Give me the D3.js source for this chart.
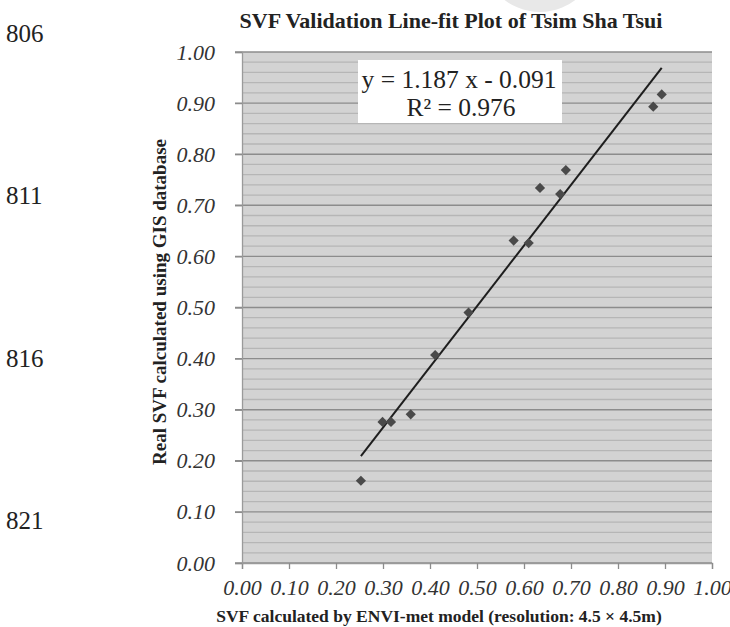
<!DOCTYPE html>
<html>
<head>
<meta charset="utf-8">
<script src="https://cdn.jsdelivr.net/npm/d3@7"></script>
<style>
  body { margin: 0; background: #fff; }
  svg { display: block; font-family: "Liberation Serif", "Times New Roman", serif; }
</style>
</head>
<body>
<div id="canvas"></div>
<script>
// data
var envi = [0.253, 0.299, 0.317, 0.359, 0.411, 0.482, 0.578, 0.610, 0.634, 0.677, 0.689, 0.875, 0.893];
var gis  = [0.161, 0.276, 0.276, 0.291, 0.407, 0.490, 0.631, 0.626, 0.734, 0.722, 0.769, 0.893, 0.917];
var slope = 1.187, intercept = -0.091, r2 = 0.976;
var ticks = [0, 0.1, 0.2, 0.3, 0.4, 0.5, 0.6, 0.7, 0.8, 0.9, 1.0];
var lineNumbers = ['806', '811', '816', '821'];

var W = 730, H = 627;
var m = {t:52, r:18, b:64, l:242};

var svg = d3.select('#canvas')
    .append('svg')
    .attr('width', W)
    .attr('height', H);

var x = d3.scaleLinear().domain([0, 1]).range([m.l, W - m.r]);
var y = d3.scaleLinear().domain([0, 1]).range([H - m.b, m.t]);

// faint watermark at the top
svg.append('path')
    .attr('d', d3.arc()({innerRadius: 38, outerRadius: 58, startAngle: 0, endAngle: 2*Math.PI}))
    .attr('transform', 'translate(540,-46)')
    .style('fill', '#e8e8e8');

// line numbers of the page
svg.selectAll('.lineno')
    .data(lineNumbers)
    .enter()
    .append('text')
    .attr('class', 'lineno')
    .attr('x', 6)
    .attr('y', function(d, i){ return 33 + i*162.5; })
    .attr('dy', '0.35em')
    .style('font-size', '25px')
    .style('fill', '#222')
    .text(function(d){ return d; });

// plot background
svg.append('rect')
    .attr('x', x(0)).attr('y', y(1))
    .attr('width', x(1) - x(0)).attr('height', y(0) - y(1))
    .style('fill', '#d3d3d3');

// minor gridlines every 0.02
var minor = d3.range(0, 51).map(function(i){ return i/50; })
    .filter(function(d, i){ return i % 5 != 0; });
svg.selectAll('.minor')
    .data(minor)
    .enter()
    .append('line')
    .attr('x1', x(0)).attr('x2', x(1))
    .attr('y1', function(d){ return y(d); })
    .attr('y2', function(d){ return y(d); })
    .style('stroke', '#b6b6b6')
    .style('stroke-width', 1.3);

// major gridlines
svg.selectAll('.major')
    .data(ticks)
    .enter()
    .append('line')
    .attr('x1', x(0) - 7).attr('x2', x(1))
    .attr('y1', function(d){ return y(d); })
    .attr('y2', function(d){ return y(d); })
    .style('stroke', '#8c8c8c')
    .style('stroke-width', 1.4);

// axes
var fmt = d3.format('.2f');
var xAxis = svg.append('g')
    .attr('transform', 'translate(0,' + y(0) + ')')
    .call(d3.axisBottom(x).tickValues(ticks).tickFormat(fmt).tickSize(6).tickPadding(6));
var yAxis = svg.append('g')
    .attr('transform', 'translate(' + x(0) + ',0)')
    .call(d3.axisLeft(y).tickValues(ticks).tickFormat(fmt).tickSize(7).tickPadding(20));

[xAxis, yAxis].forEach(function(a){
    a.attr('font-family', null);
    a.select('.domain').style('stroke', '#9a9a9a').style('stroke-width', 1.3);
    a.selectAll('.tick line').style('stroke', '#8c8c8c').style('stroke-width', 1.3);
    a.selectAll('.tick text')
        .style('font-family', '"Liberation Serif", "Times New Roman", serif')
        .style('font-style', 'italic')
        .style('font-size', '22px')
        .style('fill', '#333');
});
xAxis.selectAll('.tick text').attr('dy', '0.9em');

// trend line
var xs = d3.extent(envi);
svg.append('line')
    .attr('x1', x(xs[0])).attr('y1', y(slope*xs[0] + intercept))
    .attr('x2', x(xs[1])).attr('y2', y(slope*xs[1] + intercept))
    .style('stroke', '#1e1e1e')
    .style('stroke-width', 2);

// points
var diamond = d3.symbol().type(d3.symbolSquare).size(52);
svg.selectAll('.pt')
    .data(envi)
    .enter()
    .append('path')
    .attr('class', 'pt')
    .attr('d', diamond)
    .attr('transform', function(d, i){
        return 'translate(' + x(d) + ',' + y(gis[i]) + ') rotate(45)';
    })
    .style('fill', '#4a4a4a');

// equation box
function fmt3(v){ return d3.format('.3f')(v); }
var box = svg.append('g');
box.append('rect')
    .attr('x', 358).attr('y', 60)
    .attr('width', 204).attr('height', 63)
    .style('fill', '#fff');
box.append('text')
    .attr('x', 459).attr('y', 88)
    .attr('text-anchor', 'middle')
    .style('font-size', '25.5px')
    .style('fill', '#222')
    .text('y = ' + slope + ' x - ' + fmt3(-intercept));
box.append('text')
    .attr('x', 461).attr('y', 116)
    .attr('text-anchor', 'middle')
    .style('font-size', '25.5px')
    .style('fill', '#222')
    .text('R² = ' + fmt3(r2));

// titles
svg.append('text')
    .attr('x', 451).attr('y', 28)
    .attr('text-anchor', 'middle')
    .style('font-size', '22px')
    .style('font-weight', 'bold')
    .style('fill', '#222')
    .text('SVF Validation Line-fit Plot of Tsim Sha Tsui');

svg.append('text')
    .attr('x', 439).attr('y', 622)
    .attr('text-anchor', 'middle')
    .style('font-size', '17.5px')
    .style('font-weight', 'bold')
    .style('fill', '#222')
    .text('SVF calculated by ENVI-met model (resolution: 4.5 × 4.5m)');

svg.append('text')
    .attr('transform', 'translate(166,302) rotate(-90)')
    .attr('text-anchor', 'middle')
    .style('font-size', '19px')
    .style('font-weight', 'bold')
    .style('fill', '#222')
    .text('Real SVF calculated using GIS database');
</script>
</body>
</html>
